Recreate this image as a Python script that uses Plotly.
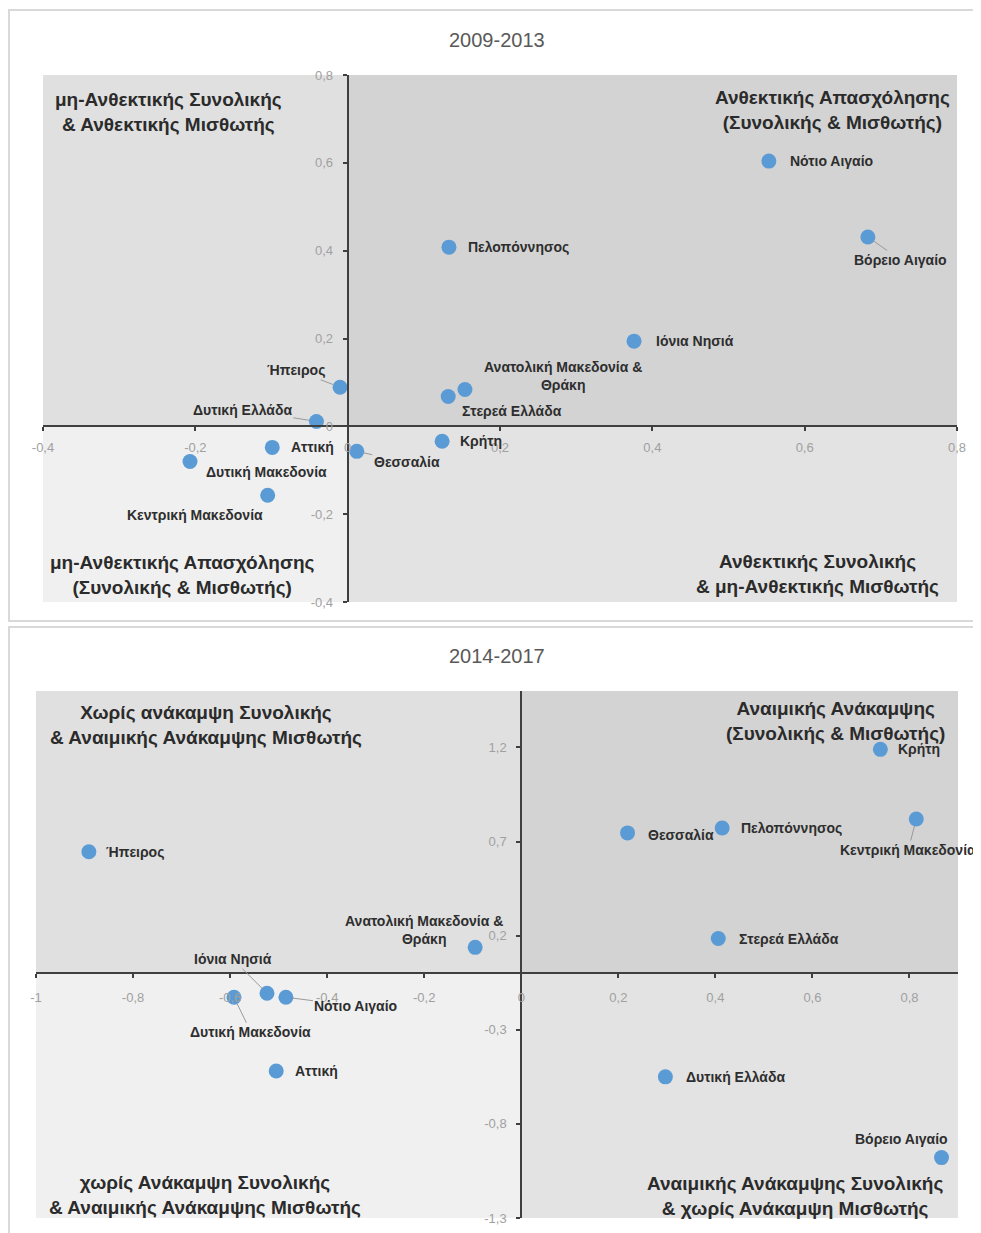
import plotly.graph_objects as go

# ---------------------------------------------------------------------------
# Data — 2009-2013
# ---------------------------------------------------------------------------
REGIONS_A = [
    "Νότιο Αιγαίο", "Βόρειο Αιγαίο", "Πελοπόννησος", "Ιόνια Νησιά",
    "Ανατολική Μακεδονία &<br>Θράκη", "Στερεά Ελλάδα", "Ήπειρος",
    "Δυτική Ελλάδα", "Αττική", "Θεσσαλία", "Κρήτη",
    "Δυτική Μακεδονία", "Κεντρική Μακεδονία",
]
X_A = [0.553, 0.683, 0.133, 0.376, 0.154, 0.132, -0.010,
       -0.041, -0.099, 0.012, 0.124, -0.207, -0.105]
Y_A = [0.604, 0.431, 0.408, 0.194, 0.084, 0.068, 0.089,
       0.011, -0.048, -0.057, -0.034, -0.080, -0.157]

XTICKS_A = [-0.4, -0.2, 0, 0.2, 0.4, 0.6, 0.8]
XTEXT_A = ["-0,4", "-0,2", "0", "0,2", "0,4", "0,6", "0,8"]
YTICKS_A = [-0.4, -0.2, 0, 0.2, 0.4, 0.6, 0.8]
YTEXT_A = ["-0,4", "-0,2", "0", "0,2", "0,4", "0,6", "0,8"]

QUAD_A = [
    "μη-Ανθεκτικής Συνολικής<br>& Ανθεκτικής Μισθωτής",
    "Ανθεκτικής Απασχόλησης<br>(Συνολικής & Μισθωτής)",
    "μη-Ανθεκτικής Απασχόλησης<br>(Συνολικής & Μισθωτής)",
    "Ανθεκτικής Συνολικής<br>& μη-Ανθεκτικής Μισθωτής",
]

# ---------------------------------------------------------------------------
# Data — 2014-2017
# ---------------------------------------------------------------------------
REGIONS_B = [
    "Κρήτη", "Κεντρική Μακεδονία", "Πελοπόννησος", "Θεσσαλία",
    "Στερεά Ελλάδα", "Ανατολική Μακεδονία &<br>Θράκη", "Ήπειρος",
    "Ιόνια Νησιά", "Νότιο Αιγαίο", "Δυτική Μακεδονία", "Αττική",
    "Δυτική Ελλάδα", "Βόρειο Αιγαίο",
]
X_B = [0.740, 0.814, 0.414, 0.219, 0.406, -0.095, -0.891,
       -0.524, -0.485, -0.592, -0.505, 0.297, 0.866]
Y_B = [1.190, 0.820, 0.772, 0.746, 0.185, 0.138, 0.646,
       -0.106, -0.127, -0.127, -0.519, -0.550, -0.979]

XTICKS_B = [-1, -0.8, -0.6, -0.4, -0.2, 0, 0.2, 0.4, 0.6, 0.8]
XTEXT_B = ["-1", "-0,8", "-0,6", "-0,4", "-0,2", "0", "0,2", "0,4", "0,6", "0,8"]
YTICKS_B = [-1.3, -0.8, -0.3, 0.2, 0.7, 1.2]
YTEXT_B = ["-1,3", "-0,8", "-0,3", "0,2", "0,7", "1,2"]

QUAD_B = [
    "Χωρίς ανάκαμψη Συνολικής<br>& Αναιμικής Ανάκαμψης Μισθωτής",
    "Αναιμικής Ανάκαμψης<br>(Συνολικής & Μισθωτής)",
    "χωρίς Ανάκαμψη Συνολικής<br>& Αναιμικής Ανάκαμψης Μισθωτής",
    "Αναιμικής Ανάκαμψης Συνολικής<br>& χωρίς Ανάκαμψη Μισθωτής",
]

# ---------------------------------------------------------------------------
# Styling / placement
# ---------------------------------------------------------------------------
PAGE_OFF = 8                      # default body margin of the html page
W, H = 981 - PAGE_OFF, 1233 - PAGE_OFF
FONT = "Liberation Sans"
BLUE = "#5b9bd5"
AXIS = "#3f3f3f"
TICK = "#a0a0a0"
LABEL = "#2e2e2e"
Q_COLORS = ["#e0e0e0", "#d3d3d3", "#f0f0f0", "#e3e3e3"]  # TL, TR, BL, BR

# label offsets in px from the point (dx, dy, leader line)
OFFS_A = [(63, 0, 0), (33, 23, 1), (70, 0, 0), (61, 0, 0), (98, -13, 0),
          (64, 15, 0), (-44, -17, 1), (-74, -12, 1), (40, 0, 0), (50, 11, 1),
          (39, 0, 0), (76, 11, 0), (-73, 20, 0)]
OFFS_B = [(39, 0, 0), (-8, 31, 1), (69, 0, 0), (53, 2, 0), (71, 0, 0),
          (-51, -17, 0), (46, 0, 0), (-34, -34, 1), (70, 9, 1), (17, 35, 1),
          (40, 0, 0), (70, 0, 0), (-40, -19, 0)]

QPOS_A = [(0.137, 0.930), (0.864, 0.934), (0.152, 0.051), (0.847, 0.053)]
QPOS_B = [(0.184, 0.935), (0.867, 0.943), (0.183, 0.044), (0.823, 0.042)]


def px(v):
    """page pixel x -> paper fraction"""
    return (v - PAGE_OFF) / W


def py(v):
    """page pixel y -> paper fraction"""
    return 1 - (v - PAGE_OFF) / H


fig = go.Figure()

panels = [
    dict(ax="", x=X_A, y=Y_A, names=REGIONS_A, offs=OFFS_A,
         xr=[-0.4, 0.8], yr=[-0.4, 0.8],
         xdom=[px(43), px(957)], ydom=[py(602), py(75)],
         xt=(XTICKS_A, XTEXT_A), yt=(YTICKS_A, YTEXT_A), xstand=5,
         quad=QUAD_A, qpos=QPOS_A, title="2009-2013", ty=py(40)),
    dict(ax="2", x=X_B, y=Y_B, names=REGIONS_B, offs=OFFS_B,
         xr=[-1, 0.9], yr=[-1.3, 1.5],
         xdom=[px(36), px(958)], ydom=[py(1218), py(691)],
         xt=(XTICKS_B, XTEXT_B), yt=(YTICKS_B, YTEXT_B), xstand=8,
         quad=QUAD_B, qpos=QPOS_B, title="2014-2017", ty=py(656)),
]

shapes = [
    # chart cards
    dict(type="rect", xref="paper", yref="paper", x0=px(9), x1=1.02,
         y0=py(621), y1=py(10), line=dict(color="#d9d9d9", width=2),
         fillcolor="white", layer="below"),
    dict(type="rect", xref="paper", yref="paper", x0=px(9), x1=1.02,
         y0=-0.02, y1=py(627), line=dict(color="#d9d9d9", width=2),
         fillcolor="white", layer="below"),
]
annotations = []
layout_axes = {}

for p in panels:
    xa, ya = "x" + p["ax"], "y" + p["ax"]
    x0, x1 = p["xr"]
    y0, y1 = p["yr"]

    # quadrant backgrounds
    for (qx0, qx1, qy0, qy1), col in zip(
        [(x0, 0, 0, y1), (0, x1, 0, y1), (x0, 0, y0, 0), (0, x1, y0, 0)], Q_COLORS
    ):
        shapes.append(dict(type="rect", xref=xa, yref=ya, x0=qx0, x1=qx1,
                           y0=qy0, y1=qy1, fillcolor=col, line_width=0,
                           layer="below"))

    fig.add_trace(go.Scatter(
        x=p["x"], y=p["y"], mode="markers", xaxis=xa, yaxis=ya,
        marker=dict(size=15, color=BLUE), showlegend=False,
        hovertext=p["names"], hoverinfo="text+x+y",
    ))

    # point labels
    for name, xv, yv, (dx, dy, lead) in zip(p["names"], p["x"], p["y"], p["offs"]):
        annotations.append(dict(
            x=xv, y=yv, xref=xa, yref=ya, text=name, showarrow=True,
            ax=dx, ay=dy, arrowhead=0, arrowwidth=1,
            arrowcolor="#9a9a9a" if lead else "rgba(0,0,0,0)",
            standoff=7, startstandoff=0,
            font=dict(family=FONT, size=14, color=LABEL, weight="bold"),
            align="center",
        ))

    # quadrant titles
    for txt, (qx, qy) in zip(p["quad"], p["qpos"]):
        annotations.append(dict(
            x=qx, y=qy, xref=xa + " domain", yref=ya + " domain", text=txt,
            showarrow=False, xanchor="center", yanchor="middle", align="center",
            font=dict(family=FONT, size=19, color="#2b2b2b", weight="bold"),
        ))

    annotations.append(dict(
        x=px(497), y=p["ty"], xref="paper", yref="paper", text=p["title"],
        showarrow=False, xanchor="center", yanchor="middle",
        font=dict(family=FONT, size=20, color="#595959"),
    ))

    # axes cross at zero
    xfrac = (0 - x0) / (x1 - x0)
    yfrac = (0 - y0) / (y1 - y0)
    xpos = p["xdom"][0] + xfrac * (p["xdom"][1] - p["xdom"][0])
    ypos = p["ydom"][0] + yfrac * (p["ydom"][1] - p["ydom"][0])

    common = dict(showgrid=False, zeroline=False, showline=True,
                  linecolor=AXIS, linewidth=2, ticks="outside", ticklen=4,
                  tickwidth=2, tickcolor=AXIS, automargin=False,
                  tickfont=dict(family=FONT, size=13, color=TICK),
                  fixedrange=True)
    layout_axes["xaxis" + p["ax"]] = dict(
        common, range=p["xr"], domain=p["xdom"], anchor="free", position=ypos,
        tickvals=p["xt"][0], ticktext=p["xt"][1], ticklabelstandoff=p["xstand"],
    )
    layout_axes["yaxis" + p["ax"]] = dict(
        common, range=p["yr"], domain=p["ydom"], anchor="free", position=xpos,
        tickvals=p["yt"][0], ticktext=p["yt"][1], ticklabelstandoff=7,
    )

fig.update_layout(
    template="none",
    width=W, height=H,
    margin=dict(l=0, r=0, t=0, b=0, autoexpand=False),
    paper_bgcolor="white",
    plot_bgcolor="rgba(0,0,0,0)",
    shapes=shapes,
    annotations=annotations,
    font=dict(family=FONT),
    **layout_axes,
)

fig.write_html("out.html")
